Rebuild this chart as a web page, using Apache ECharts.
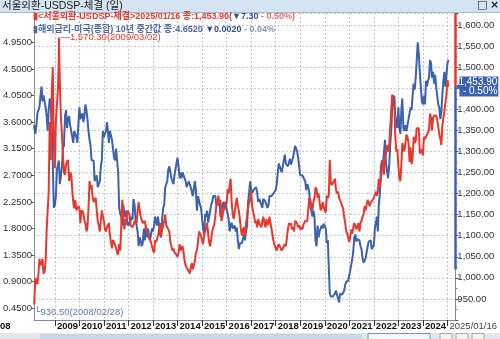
<!DOCTYPE html>
<html><head><meta charset="utf-8">
<script src="https://cdn.jsdelivr.net/npm/echarts@6/dist/echarts.min.js"></script>
<style>html,body{margin:0;padding:0;background:#fff}#c{width:500px;height:339px}</style>
</head><body><div id="c"></div>
<script>
const FONT = '"Liberation Sans","Noto Sans CJK KR",sans-serif';

// regular points: 1st and 16th of each month, starting 2008-03-01, ending 2025-01-16
const seriesStartYear = 2008, seriesStartMonth = 3;
const firstDate = '2008-02-28';
const krwLow = ['2008-02-28', 936.5];
const krwPeak = ['2009-03-02', 1570.3];
const krwLast = ['2025-01-16', 1453.9];
const krwChange = -7.30, krwChangePct = -0.50;
const ustFirst = 3.55;
const ustLast = 4.6520, ustChange = -0.0020, ustChangePct = -0.04;

// USD/KRW (서울외환-USDSP-체결), two values per month
const usdkrw = [
  945,1000, 990,985, 1010,1045, 1030,1035, 1045,1010, 1015,1040, 1115,1160, 1205,1370, 1280,1440, 1500,1320,
  1260,1370, 1370,1450, 1530,1460, 1380,1340, 1290,1250, 1245,1270, 1275,1280, 1230,1250, 1245,1210, 1180,1165, 1185,1160, 1165,1170,
  1165,1130, 1160,1160, 1155,1135, 1130,1110, 1120,1165, 1230,1210, 1220,1195, 1180,1180, 1190,1160, 1135,1125, 1110,1135, 1160,1145,
  1135,1115, 1110,1120, 1125,1130, 1100,1085, 1070,1090, 1085,1085, 1070,1060, 1055,1080, 1065,1120, 1185,1155, 1115,1135, 1140,1160,
  1155,1150, 1125,1125, 1120,1125, 1135,1135, 1130,1160, 1180,1160, 1145,1145, 1130,1130, 1135,1120, 1110,1105, 1095,1090, 1085,1075,
  1065,1060, 1090,1085, 1085,1100, 1115,1130, 1100,1115, 1125,1135, 1150,1125, 1120,1115, 1110,1085, 1075,1065, 1070,1060, 1060,1055,
  1050,1060, 1080,1065, 1070,1075, 1060,1040, 1030,1025, 1020,1020, 1010,1025, 1035,1020, 1030,1040, 1060,1065, 1085,1110, 1110,1100,
  1100,1080, 1100,1100, 1100,1130, 1105,1085, 1075,1090, 1110,1120, 1125,1145, 1170,1185, 1195,1175, 1185,1135, 1145,1165, 1160,1180,
  1175,1210, 1200,1220, 1235,1180, 1150,1140, 1140,1175, 1190,1170, 1160,1140, 1115,1100, 1115,1120, 1100,1130, 1145,1170, 1170,1185,
  1205,1170, 1155,1145, 1130,1135, 1120,1140, 1130,1125, 1120,1135, 1145,1130, 1120,1140, 1125,1130, 1145,1130, 1115,1100, 1085,1085,
  1070,1065, 1075,1080, 1080,1070, 1065,1070, 1075,1080, 1075,1095, 1115,1130, 1125,1130, 1115,1120, 1110,1135, 1135,1130, 1120,1125,
  1115,1120, 1115,1125, 1125,1135, 1135,1135, 1165,1190, 1185,1185, 1160,1180, 1190,1215, 1210,1190, 1200,1180, 1160,1165, 1180,1170,
  1160,1155, 1195,1190, 1195,1280, 1225,1220, 1220,1230, 1235,1210, 1200,1205, 1190,1185, 1185,1170, 1165,1145, 1130,1110, 1105,1095,
  1085,1100, 1115,1105, 1120,1130, 1130,1115, 1115,1130, 1110,1130, 1135,1145, 1150,1170, 1160,1175, 1185,1185, 1170,1180, 1180,1185,
  1190,1190, 1205,1195, 1205,1235, 1215,1235, 1265,1280, 1245,1290, 1295,1315, 1300,1310, 1355,1395, 1435,1425, 1420,1335, 1300,1305,
  1265,1235, 1230,1275, 1320,1310, 1300,1320, 1340,1335, 1320,1275, 1310,1270, 1285,1335, 1320,1325, 1355,1355, 1355,1295, 1300,1305,
  1290,1335, 1330,1335, 1335,1335, 1350,1390, 1380,1350, 1380,1385, 1385,1385, 1375,1360, 1340,1330, 1315,1360, 1380,1395, 1395,1435,
  1470,1453.9
];

// US 10Y yield (해외금리-미국(종합) 10년 중간값), two values per month
const ust10y = [
  3.5,3.4, 3.55,3.75, 3.8,3.85, 4.05,4.2, 3.95,4.05, 3.95,3.85, 3.7,3.45, 3.8,4.0, 3.95,3.5, 2.9,2.15,
  2.2,2.35, 2.8,2.8, 2.95,2.55, 2.7,2.85, 3.15,3.2, 3.7,3.8, 3.5,3.65, 3.7,3.55, 3.45,3.45, 3.25,3.45, 3.45,3.35, 3.25,3.55,
  3.85,3.65, 3.65,3.75, 3.6,3.7, 3.9,3.8, 3.65,3.45, 3.3,3.2, 2.95,2.95, 2.95,2.6, 2.65,2.7, 2.5,2.55, 2.6,2.85, 2.95,3.45,
  3.35,3.4, 3.45,3.6, 3.45,3.25, 3.45,3.45, 3.3,3.15, 3.0,2.95, 3.15,2.95, 2.75,2.15, 2.05,2.0, 1.85,2.2, 2.05,2.0, 2.1,1.85,
  1.9,1.85, 1.85,2.0, 1.95,2.3, 2.2,1.95, 1.95,1.75, 1.5,1.65, 1.6,1.5, 1.55,1.8, 1.6,1.85, 1.65,1.8, 1.7,1.6, 1.6,1.8,
  1.75,1.85, 2.0,2.0, 1.85,2.0, 1.85,1.7, 1.65,1.95, 2.15,2.2, 2.5,2.5, 2.6,2.8, 2.85,2.85, 2.65,2.6, 2.55,2.7, 2.8,2.9,
  3.0,2.85, 2.65,2.75, 2.65,2.75, 2.75,2.65, 2.6,2.5, 2.55,2.6, 2.6,2.5, 2.5,2.35, 2.35,2.6, 2.45,2.1, 2.35,2.35, 2.2,2.15,
  2.15,1.8, 1.7,2.05, 2.0,2.1, 1.9,1.9, 2.1,2.2, 2.25,2.35, 2.35,2.35, 2.2,2.2, 2.2,2.25, 2.0,2.05, 2.2,2.25, 2.15,2.25,
  2.25,2.05, 1.95,1.75, 1.85,1.9, 1.8,1.78, 1.85,1.75, 1.82,1.6, 1.45,1.55, 1.55,1.55, 1.58,1.7, 1.6,1.75, 1.85,2.25, 2.4,2.6,
  2.45,2.4, 2.45,2.45, 2.45,2.5, 2.4,2.25, 2.3,2.3, 2.2,2.15, 2.3,2.3, 2.25,2.2, 2.15,2.2, 2.35,2.35, 2.35,2.35, 2.4,2.4,
  2.45,2.55, 2.75,2.9, 2.85,2.85, 2.75,2.85, 2.95,3.05, 2.9,2.9, 2.85,2.85, 2.98,2.88, 2.85,3.0, 3.1,3.2, 3.15,3.1, 3.0,2.85,
  2.7,2.7, 2.7,2.68, 2.7,2.6, 2.45,2.55, 2.5,2.4, 2.15,2.1, 2.0,2.1, 2.0,1.6, 1.5,1.85, 1.65,1.75, 1.75,1.85, 1.8,1.88,
  1.9,1.8, 1.55,1.6, 1.15,0.7, 0.65,0.65, 0.65,0.65, 0.7,0.75, 0.68,0.62, 0.55,0.7, 0.7,0.68, 0.68,0.75, 0.85,0.9, 0.9,0.92,
  0.92,1.1, 1.08,1.3, 1.42,1.65, 1.7,1.58, 1.62,1.63, 1.6,1.5, 1.45,1.3, 1.22,1.26, 1.3,1.32, 1.5,1.58, 1.55,1.6, 1.45,1.45,
  1.52,1.8, 1.8,2.0, 1.75,2.2, 2.4,2.85, 2.95,2.88, 2.85,3.3, 2.9,2.9, 2.65,2.85, 3.2,3.45, 3.8,4.0, 4.05,3.7, 3.6,3.5,
  3.85,3.5, 3.4,3.85, 4.0,3.5, 3.45,3.55, 3.45,3.55, 3.65,3.75, 3.85,3.8, 4.05,4.25, 4.15,4.35, 4.65,4.95, 4.75,4.45, 4.2,3.95,
  3.9,4.05, 3.9,4.3, 4.2,4.3, 4.35,4.65, 4.6,4.35, 4.45,4.25, 4.4,4.2, 4.05,3.9, 3.85,3.65, 3.75,4.05, 4.3,4.45, 4.2,4.4,
  4.6,4.652
];

const yieldTicks = [0.45, 0.90, 1.35, 1.80, 2.25, 2.70, 3.15, 3.60, 4.05, 4.50, 4.95];
const xMin = '2008-02-26', xMax = '2025-04-28';
const yieldMin = 0.252, yieldMax = 5.446;
const krwMin = 900, krwMax = 1628.5, krwStep = 50;
const krwRangeLow = 1020;

function pointDates(n) {
  const out = [];
  for (let i = 0; i < n; i++) {
    const m = seriesStartMonth - 1 + Math.floor(i / 2);
    const y = seriesStartYear + Math.floor(m / 12);
    const mm = m % 12 + 1;
    out.push(y + '-' + String(mm).padStart(2, '0') + '-' + (i % 2 ? '16' : '01'));
  }
  return out;
}
const dates = pointDates(usdkrw.length);
const redData = [krwLow].concat(dates.map((d, i) => [d, usdkrw[i]]), [krwPeak])
  .sort((a, b) => a[0] < b[0] ? -1 : a[0] > b[0] ? 1 : 0);
const blueData = [[firstDate, ustFirst]].concat(dates.map((d, i) => [d, ust10y[i]]));

const fmt2 = v => v.toLocaleString('en-US', {minimumFractionDigits: 2, maximumFractionDigits: 2});
const slash = d => d.replace(/-/g, '/');
const RED = '#e8382e', BLUE = '#3b62b1';
const YEAR = 365 * 24 * 3600 * 1000;

const chart = echarts.init(document.getElementById('c'));
chart.setOption({
  animation: false,
  backgroundColor: '#fff',
  textStyle: {fontFamily: FONT},
  graphic: [
    {type: 'rect', shape: {x: 0, y: 0, width: 500, height: 12}, style: {fill: '#d5e4f2'}},
    {type: 'line', shape: {x1: 0, y1: 12.5, x2: 500, y2: 12.5}, style: {stroke: '#a6bbd0', lineWidth: 1}},
    {type: 'text', x: 477, y: 0, style: {text: '□', fill: '#222', font: 'bold 11px "DejaVu Sans"'}},
    {type: 'text', x: 490, y: 0, style: {text: '×', fill: '#222', font: 'bold 11px "DejaVu Sans"'}},
    {type: 'text', x: 0, y: 321, style: {text: '08', fill: '#111', font: 'bold 9.5px "Liberation Sans"'}},
    {type: 'rect', shape: {x: 0, y: 333, width: 500, height: 6}, style: {fill: '#e4e7eb'}},
    {type: 'rect', shape: {x: 40, y: 334, width: 322, height: 5}, style: {fill: '#c8d6e7'}},
    {type: 'rect', shape: {x: 368, y: 333.5, width: 62, height: 6}, style: {fill: '#f3f6fa', stroke: '#6f93c6'}},
    {type: 'rect', shape: {x: 440, y: 333.5, width: 12, height: 6}, style: {fill: '#f3f3f3', stroke: '#aaa'}},
    {type: 'rect', shape: {x: 456, y: 333.5, width: 12, height: 6}, style: {fill: '#f3f3f3', stroke: '#aaa'}},
    {type: 'rect', shape: {x: 472, y: 333.5, width: 12, height: 6}, style: {fill: '#f3f3f3', stroke: '#aaa'}}
  ],
  title: [
    {text: '서울외환-USDSP-체결 (일)', left: 2, top: 0, padding: 0,
      textStyle: {fontSize: 10.5, fontWeight: 'normal', color: '#1b1b1b', fontFamily: FONT, lineHeight: 12}},
    {text: '{r|▮<서울외환-USDSP-체결>' + slash(krwLast[0]) + ' 종:' + fmt2(krwLast[1]) + '(}{b|▼' + Math.abs(krwChange).toFixed(2) + '}{p| - ' + Math.abs(krwChangePct).toFixed(2) + '%)}',
      left: 33, top: 12, padding: 0,
      textStyle: {rich: {
        r: {color: '#e0392f', fontSize: 9, fontFamily: FONT},
        b: {color: '#2d4f9e', fontSize: 9, fontFamily: FONT},
        p: {color: '#e07070', fontSize: 9, fontFamily: FONT}}}},
    {text: '{g|▮해외금리-미국(종합) 10년 중간값 종:' + ustLast.toFixed(4) + ' }{b|▼' + Math.abs(ustChange).toFixed(4) + '}{p| - ' + Math.abs(ustChangePct).toFixed(2) + '%}',
      left: 33, top: 25, padding: 0,
      textStyle: {rich: {
        g: {color: '#4f6aa8', fontSize: 9, fontFamily: FONT},
        b: {color: '#2d4f9e', fontSize: 9, fontFamily: FONT},
        p: {color: '#8096c2', fontSize: 9, fontFamily: FONT}}}}
  ],
  grid: {left: 32, right: 43, top: 13, bottom: 19},
  xAxis: {
    type: 'time', min: xMin, max: xMax,
    minInterval: YEAR, maxInterval: YEAR, splitNumber: 17,
    axisLine: {show: true, lineStyle: {color: '#8a8a8a'}},
    axisTick: {show: true, length: 6, lineStyle: {color: '#333'}},
    axisLabel: {
      showMinLabel: false, showMaxLabel: false, align: 'left', margin: 1, padding: [0, 0, 0, 2],
      formatter: function (value) {
        const y = new Date(value).getFullYear();
        if (y === 2025) return '{d|' + slash(krwLast[0]) + '}';
        return '{y|' + y + '}';
      },
      rich: {
        y: {fontWeight: 'bold', fontSize: 9.5, color: '#111', fontFamily: 'Liberation Sans'},
        d: {fontSize: 9.5, color: '#444', fontFamily: 'Liberation Sans'}
      }
    },
    splitLine: {show: true, lineStyle: {type: [2, 2], color: '#c4c4c4'}}
  },
  yAxis: [
    {
      type: 'value', position: 'left', min: yieldMin, max: yieldMax,
      axisLine: {show: true, lineStyle: {color: '#8a8a8a'}},
      axisTick: {show: true, length: 3, customValues: yieldTicks, lineStyle: {color: '#555'}},
      axisLabel: {customValues: yieldTicks, formatter: v => v.toFixed(4), fontSize: 9.5, color: '#333', margin: 2, fontFamily: 'Liberation Sans'},
      splitLine: {show: false}
    },
    {
      type: 'value', position: 'right', min: krwMin, max: krwMax, interval: krwStep,
      axisLine: {show: true, lineStyle: {color: '#8a8a8a'}},
      axisTick: {show: true, length: 3, lineStyle: {color: '#555'}},
      minorTick: {show: true, splitNumber: 2, length: 2, lineStyle: {color: '#777'}},
      axisLabel: {
        showMaxLabel: false, fontSize: 9.5, color: '#333', margin: 2, fontFamily: 'Liberation Sans',
        formatter: v => (v === krwMin || v === 1450 || v % krwStep !== 0) ? '' : fmt2(v)
      },
      splitLine: {show: true, lineStyle: {type: [2, 2], color: '#c4c4c4'}}
    }
  ],
  series: [
    {
      name: 'US10Y', type: 'line', yAxisIndex: 0, data: blueData, symbol: 'none',
      lineStyle: {color: BLUE, width: 2}, z: 2
    },
    {
      name: 'USDKRW', type: 'line', yAxisIndex: 1, data: redData, symbol: 'none',
      lineStyle: {color: RED, width: 2}, z: 3,
      markPoint: {
        symbol: 'circle', symbolSize: 1, silent: true, itemStyle: {color: 'rgba(0,0,0,0)'},
        data: [
          {coord: krwPeak, label: {show: true, position: 'right', distance: 1,
            formatter: '—' + fmt2(krwPeak[1]) + '(' + slash(krwPeak[0]) + ')',
            color: '#e0392f', fontSize: 9.5, fontFamily: 'Liberation Sans'}},
          {coord: krwLow, label: {show: true, position: 'right', distance: 0, offset: [0, 8],
            formatter: '{l|└}{t|' + fmt2(krwLow[1]) + '(' + slash(krwLow[0]) + ')}',
            rich: {l: {color: '#5d7db5', fontSize: 9.5, fontFamily: 'DejaVu Sans'},
                   t: {color: '#5d7db5', fontSize: 9.5, fontFamily: 'Liberation Sans'}}}},
          {coord: [xMax, krwLast[1]], symbol: 'triangle', symbolSize: [8, 5], symbolRotate: 90,
            symbolOffset: [3, 0], itemStyle: {color: BLUE}, label: {show: false}}
        ]
      },
      markLine: {
        symbol: 'none', silent: true, label: {show: false},
        data: [
          {yAxis: krwLast[1], lineStyle: {color: 'rgba(0,0,0,0)', width: 1, type: 'solid'},
            label: {show: true, position: 'end', distance: 4,
              formatter: '{a|' + fmt2(krwLast[1]) + '}\n{a|- ' + Math.abs(krwChangePct).toFixed(2) + '%}',
              backgroundColor: BLUE, padding: [1, 1, 1, 1],
              rich: {a: {color: '#fff', fontSize: 10, lineHeight: 9, width: 37, align: 'right', fontFamily: 'Liberation Sans'}}}},
          [{coord: [xMax, krwMax], lineStyle: {color: RED, width: 2.5, type: 'solid'}}, {coord: [xMax, krwLast[1]]}],
          [{coord: [xMax, krwLast[1]], lineStyle: {color: BLUE, width: 2.5, type: 'solid'}}, {coord: [xMax, krwRangeLow]}]
        ]
      }
    }
  ]
});
</script></body></html>
